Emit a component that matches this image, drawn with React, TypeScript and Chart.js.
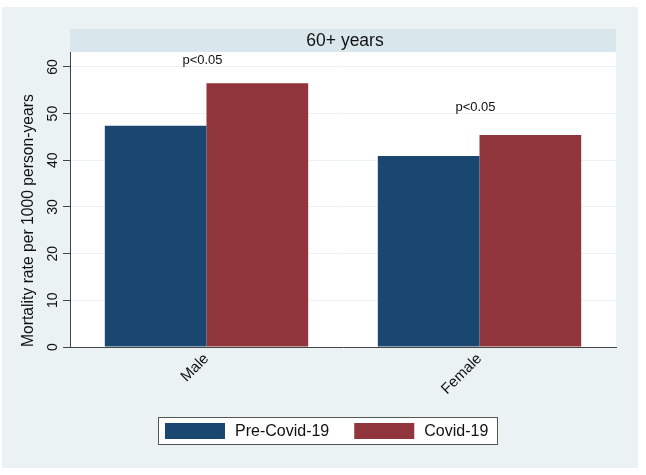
import React, { useEffect, useRef } from "react";
import { Chart, registerables } from "chart.js";

Chart.register(...registerables);

const categories = ["Male", "Female"];
const preCovid = [47.4, 40.9];
const covid = [56.5, 45.4];
const seriesLabels = ["Pre-Covid-19", "Covid-19"];
const yTicks = [0, 10, 20, 30, 40, 50, 60];
const yMax = 63.2;
const panelTitle = "60+ years";
const yTitle = "Mortality rate per 1000 person-years";
const pLabels = ["p<0.05", "p<0.05"];
const pLabelValues = [61.3, 51.4];

const BLUE = "#1a476f";
const RED = "#90353b";
const BG = "#eaf2f3";
const STRIP = "#d9e6eb";
const AXIS = "#444444";
const FONT = "'Liberation Sans', Arial, sans-serif";

export default function App() {
  const ref = useRef<HTMLCanvasElement | null>(null);

  useEffect(() => {
    const canvas = ref.current;
    if (!canvas) return;

    const decor = {
      id: "decor",
      beforeDraw(chart: any) {
        const ctx = chart.ctx;
        const a = chart.chartArea;
        ctx.save();
        ctx.fillStyle = "#ffffff";
        ctx.fillRect(0, 0, chart.width, chart.height);
        ctx.fillStyle = BG;
        ctx.fillRect(2, 7, 636, 461);
        ctx.fillStyle = "#ffffff";
        ctx.fillRect(a.left, a.top, a.right - a.left, a.bottom - a.top);
        ctx.fillStyle = STRIP;
        ctx.fillRect(a.left, 29, a.right - a.left, a.top - 29);
        ctx.fillStyle = "#111";
        ctx.font = `17.5px ${FONT}`;
        ctx.textAlign = "center";
        ctx.textBaseline = "middle";
        ctx.fillText(panelTitle, (a.left + a.right) / 2 + 2, (29 + a.top) / 2 + 1);
        ctx.restore();
      },
      afterDraw(chart: any) {
        const ctx = chart.ctx;
        const xs = chart.scales.x;
        const ys = chart.scales.y;
        ctx.save();
        // p-value annotations
        ctx.fillStyle = "#111";
        ctx.font = `13px ${FONT}`;
        ctx.textAlign = "center";
        ctx.textBaseline = "middle";
        pLabels.forEach((t, i) => {
          ctx.fillText(t, xs.getPixelForValue(i) - 4, ys.getPixelForValue(pLabelValues[i]));
        });
        // legend
        const lx = 158, ly = 417, lw = 340, lh = 28;
        ctx.fillStyle = "#ffffff";
        ctx.fillRect(lx, ly, lw, lh);
        ctx.strokeStyle = "#555";
        ctx.lineWidth = 1;
        ctx.strokeRect(lx + 0.5, ly + 0.5, lw - 1, lh - 1);
        ctx.font = `16px ${FONT}`;
        ctx.textAlign = "left";
        let x = lx + 7;
        chart.data.datasets.forEach((ds: any) => {
          ctx.fillStyle = ds.backgroundColor;
          ctx.fillRect(x, ly + 6, 60, 16);
          x += 70;
          ctx.fillStyle = "#111";
          ctx.fillText(ds.label, x, ly + lh / 2 + 1);
          x += ctx.measureText(ds.label).width + 25;
        });
        ctx.restore();
      },
    };

    const chart = new Chart(canvas, {
      type: "bar",
      data: {
        labels: categories,
        datasets: [
          { label: seriesLabels[0], data: preCovid, backgroundColor: BLUE, borderWidth: 0 },
          { label: seriesLabels[1], data: covid, backgroundColor: RED, borderWidth: 0 },
        ],
      },
      options: {
        responsive: false,
        animation: false,
        devicePixelRatio: 1,
        layout: { padding: { top: 52, right: 30, left: 0, bottom: 0 } },
        datasets: { bar: { categoryPercentage: 0.745, barPercentage: 1 } },
        plugins: { legend: { display: false }, title: { display: false }, tooltip: { enabled: false } },
        scales: {
          x: {
            afterFit(scale: any) {
              scale.height = 128;
            },
            grid: { display: false },
            border: { display: true, color: AXIS, width: 1 },
            ticks: {
              minRotation: 45,
              maxRotation: 45,
              padding: -5,
              color: "#111",
              font: { family: FONT, size: 15 },
            },
          },
          y: {
            min: 0,
            max: yMax,
            afterFit(scale: any) {
              scale.width = 70;
            },
            afterBuildTicks(scale: any) {
              scale.ticks = yTicks.map((v) => ({ value: v }));
            },
            grid: {
              color: (c: any) => (c.tick && c.tick.value === 0 ? "rgba(0,0,0,0)" : BG),
              lineWidth: 1,
              drawTicks: true,
              tickLength: 7,
              tickColor: AXIS,
            },
            border: { display: true, color: AXIS, width: 1 },
            ticks: {
              minRotation: 90,
              maxRotation: 90,
              crossAlign: "center",
              padding: 2,
              color: "#111",
              font: { family: FONT, size: 14 },
            },
            title: {
              display: true,
              text: yTitle,
              align: "start",
              color: "#111",
              font: { family: FONT, size: 15.7 },
              padding: { top: 19, bottom: 0 },
            },
          },
        },
      } as any,
      plugins: [decor],
    });

    return () => chart.destroy();
  }, []);

  return (
    <div style={{ position: "fixed", left: 0, top: 0, width: 646, height: 475 }}>
      <canvas ref={ref} width={646} height={475} />
    </div>
  );
}
